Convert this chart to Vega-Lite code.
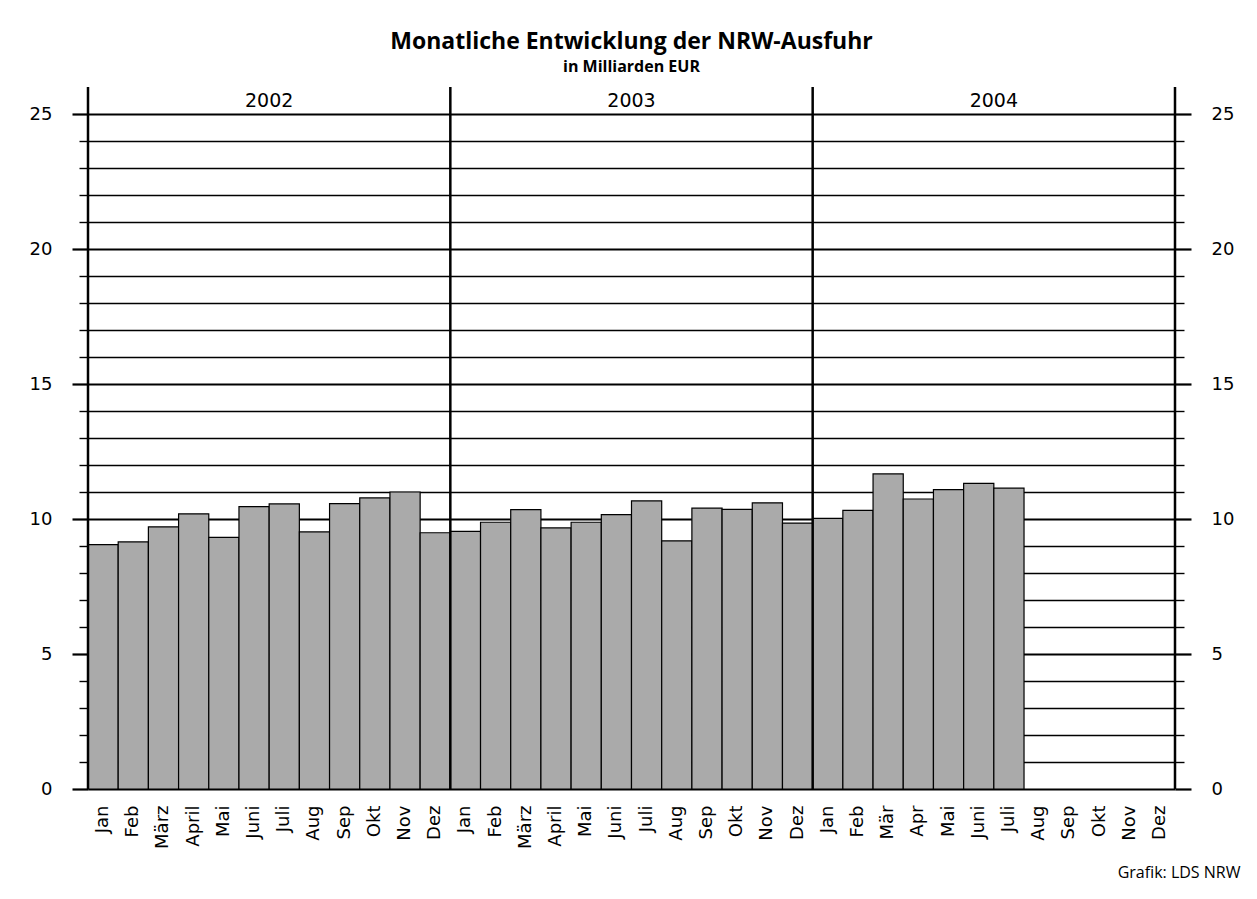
{
  "$schema": "https://vega.github.io/schema/vega-lite/v6.json",
  "width": 1087,
  "height": 702,
  "autosize": {"type": "none"},
  "padding": {"left": 88, "top": 87, "right": 82, "bottom": 110},
  "background": "white",
  "config": {"view": {"stroke": null}, "font": "DejaVu Sans"},
  "title": {
    "text": "Monatliche Entwicklung der NRW-Ausfuhr",
    "subtitle": "in Milliarden EUR",
    "font": "Open Sans",
    "fontSize": 23,
    "fontWeight": "bold",
    "subtitleFont": "Open Sans",
    "subtitleFontSize": 16,
    "subtitleFontWeight": "bold",
    "subtitleColor": "black",
    "subtitlePadding": 5,
    "color": "black",
    "anchor": "middle",
    "offset": 11
  },
  "resolve": {"axis": {"y": "independent"}},
  "layer": [
    {
      "data": {
        "values": [
          {"key": "2002|Jan", "value": 9.05},
          {"key": "2002|Feb", "value": 9.15},
          {"key": "2002|März", "value": 9.71},
          {"key": "2002|April", "value": 10.19},
          {"key": "2002|Mai", "value": 9.32},
          {"key": "2002|Juni", "value": 10.46},
          {"key": "2002|Juli", "value": 10.56},
          {"key": "2002|Aug", "value": 9.52},
          {"key": "2002|Sep", "value": 10.57},
          {"key": "2002|Okt", "value": 10.78},
          {"key": "2002|Nov", "value": 11.0},
          {"key": "2002|Dez", "value": 9.49},
          {"key": "2003|Jan", "value": 9.54},
          {"key": "2003|Feb", "value": 9.88},
          {"key": "2003|März", "value": 10.35},
          {"key": "2003|April", "value": 9.67},
          {"key": "2003|Mai", "value": 9.88},
          {"key": "2003|Juni", "value": 10.16},
          {"key": "2003|Juli", "value": 10.67},
          {"key": "2003|Aug", "value": 9.19},
          {"key": "2003|Sep", "value": 10.4},
          {"key": "2003|Okt", "value": 10.36},
          {"key": "2003|Nov", "value": 10.6},
          {"key": "2003|Dez", "value": 9.85},
          {"key": "2004|Jan", "value": 10.02},
          {"key": "2004|Feb", "value": 10.32},
          {"key": "2004|Mär", "value": 11.67},
          {"key": "2004|Apr", "value": 10.74},
          {"key": "2004|Mai", "value": 11.09},
          {"key": "2004|Juni", "value": 11.32},
          {"key": "2004|Juli", "value": 11.14},
          {"key": "2004|Aug", "value": null},
          {"key": "2004|Sep", "value": null},
          {"key": "2004|Okt", "value": null},
          {"key": "2004|Nov", "value": null},
          {"key": "2004|Dez", "value": null}
        ]
      },
      "mark": {"type": "bar", "fill": "#aaaaaa", "stroke": "black", "strokeWidth": 1.2},
      "encoding": {
        "x": {
          "field": "key",
          "type": "nominal",
          "sort": null,
          "title": "Grafik: LDS NRW",
          "scale": {
            "type": "band",
            "paddingInner": 0,
            "paddingOuter": 0,
            "domain": ["2002|Jan","2002|Feb","2002|März","2002|April","2002|Mai","2002|Juni","2002|Juli","2002|Aug","2002|Sep","2002|Okt","2002|Nov","2002|Dez","2003|Jan","2003|Feb","2003|März","2003|April","2003|Mai","2003|Juni","2003|Juli","2003|Aug","2003|Sep","2003|Okt","2003|Nov","2003|Dez","2004|Jan","2004|Feb","2004|Mär","2004|Apr","2004|Mai","2004|Juni","2004|Juli","2004|Aug","2004|Sep","2004|Okt","2004|Nov","2004|Dez"]
          },
          "axis": {
            "labelExpr": "split(datum.value, '|')[1]",
            "labelAngle": -90,
            "labelFontSize": 18,
            "labelColor": "black",
            "labelPadding": 16,
            "ticks": false,
            "domain": false,
            "grid": false,
            "titleFontSize": 16,
            "titleFontWeight": "normal",
            "titleFont": "Open Sans",
            "titleColor": "black",
            "titleAlign": "right",
            "titleAnchor": null,
            "titleBaseline": "alphabetic",
            "titleX": 1152,
            "titleY": 88
          }
        },
        "y": {
          "field": "value",
          "type": "quantitative",
          "scale": {"domain": [0, 26], "nice": false, "zero": true},
          "axis": {
            "orient": "left",
            "title": null,
            "values": [0,1,2,3,4,5,6,7,8,9,10,11,12,13,14,15,16,17,18,19,20,21,22,23,24,25],
            "labelExpr": "datum.value % 5 === 0 ? datum.label : ''",
            "labelFontSize": 18,
            "labelColor": "black",
            "labelPadding": 20,
            "domain": false,
            "grid": true,
            "gridColor": "black",
            "gridOpacity": 1,
            "gridWidth": {"condition": {"test": "datum.value % 5 === 0", "value": 2.2}, "value": 1.4},
            "tickColor": "black",
            "tickWidth": {"condition": {"test": "datum.value % 5 === 0", "value": 2.2}, "value": 1.4},
            "tickSize": {"condition": {"test": "datum.value % 5 === 0", "value": 16}, "value": 9}
          }
        }
      }
    },
    {
      "data": {"values": [{"key": "2002|Jan"}, {"key": "2003|Jan"}, {"key": "2004|Jan"}]},
      "mark": {"type": "rule", "color": "black", "strokeWidth": 2.5},
      "encoding": {
        "x": {"field": "key", "type": "nominal", "bandPosition": 0, "title": "Grafik: LDS NRW"},
        "y": {
          "datum": 0,
          "type": "quantitative",
          "axis": {
            "orient": "right",
            "title": null,
            "values": [0,1,2,3,4,5,6,7,8,9,10,11,12,13,14,15,16,17,18,19,20,21,22,23,24,25],
            "labelExpr": "datum.value % 5 === 0 ? datum.label : ''",
            "labelFontSize": 18,
            "labelColor": "black",
            "labelPadding": 20,
            "domain": false,
            "grid": false,
            "tickColor": "black",
            "tickWidth": {"condition": {"test": "datum.value % 5 === 0", "value": 2.2}, "value": 1.4},
            "tickSize": {"condition": {"test": "datum.value % 5 === 0", "value": 16}, "value": 9}
          }
        },
        "y2": {"datum": 26}
      }
    },
    {
      "data": {"values": [{"key": "2004|Dez"}]},
      "mark": {"type": "rule", "color": "black", "strokeWidth": 2.5},
      "encoding": {
        "x": {"field": "key", "type": "nominal", "bandPosition": 1, "title": "Grafik: LDS NRW"},
        "y": {"datum": 0, "type": "quantitative", "axis": null},
        "y2": {"datum": 26}
      }
    },
    {
      "data": {"values": [{"year": "2002", "key": "2002|Juli"}, {"year": "2003", "key": "2003|Juli"}, {"year": "2004", "key": "2004|Juli"}]},
      "mark": {"type": "text", "fontSize": 19, "color": "black", "baseline": "middle", "align": "center"},
      "encoding": {
        "x": {"field": "key", "type": "nominal", "bandPosition": 0, "title": "Grafik: LDS NRW"},
        "y": {"datum": 25.5, "type": "quantitative", "axis": null},
        "text": {"field": "year"}
      }
    }
  ]
}
